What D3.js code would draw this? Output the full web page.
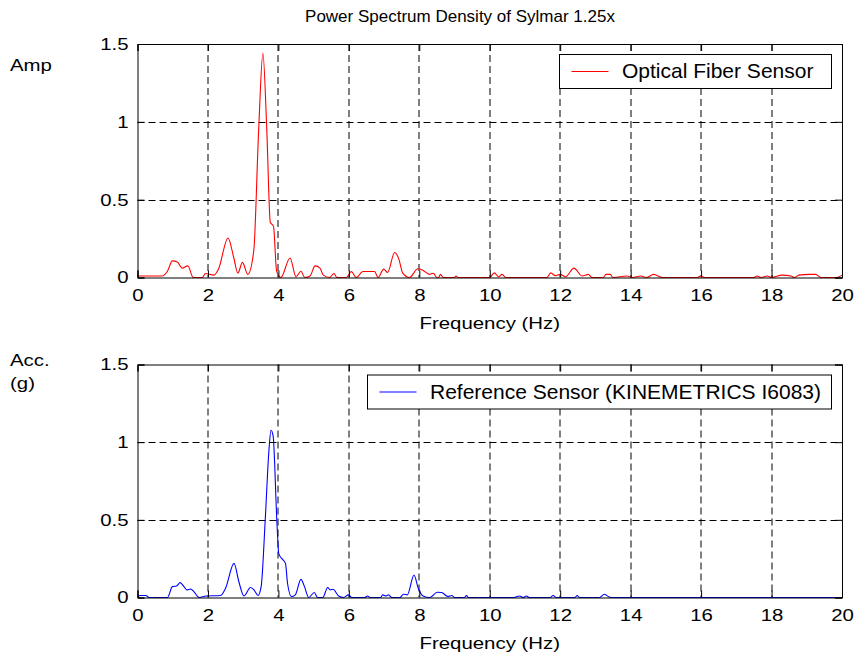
<!DOCTYPE html>
<html>
<head>
<meta charset="utf-8">
<script src="https://cdn.jsdelivr.net/npm/d3@7"></script>
<style>
  body { margin: 0; background: #fff; }
  svg text { font-family: "Liberation Sans", Arial, sans-serif; fill: #000; }
</style>
</head>
<body>
<div id="chart"></div>
<script>
// frequency (Hz) / amplitude pairs
const optFreq = [0, 0.7, 0.85, 0.99, 1.13, 1.27, 1.43, 1.58, 1.84, 1.93, 2.17, 2.3, 2.57, 2.73, 2.85, 2.98, 3.13, 3.3, 3.44, 3.56, 3.67, 3.77, 3.86, 3.95, 4.07, 4.33, 4.5, 4.64, 4.75, 4.9, 5.04, 5.18, 5.27, 5.45, 5.58, 5.66, 5.93, 6.07, 6.21, 6.4, 6.73, 6.83, 6.99, 7.1, 7.3, 7.42, 7.53, 7.72, 7.96, 8.1, 8.29, 8.4, 8.5, 8.55, 8.6, 8.68, 9.0, 9.04, 9.1, 10.0, 10.13, 10.25, 10.35, 10.45, 11.62, 11.73, 11.86, 12.0, 12.15, 12.39, 12.62, 12.8, 12.9, 13.22, 13.3, 13.42, 13.5, 13.9, 14.05, 14.29, 14.45, 14.65, 14.9, 15.9, 15.98, 16.1, 17.5, 17.59, 17.7, 17.88, 18.0, 18.3, 18.55, 18.65, 18.77, 19.06, 19.25, 19.4, 19.85, 20];
const optAmp  = [0.01, 0.01, 0.04, 0.107, 0.1, 0.06, 0.075, 0.0, 0.0, 0.026, 0.015, 0.054, 0.254, 0.13, 0.028, 0.097, 0.02, 0.17, 0.95, 1.44, 0.95, 0.355, 0.33, 0.04, 0.0, 0.125, 0.005, 0.04, 0.0, 0.01, 0.075, 0.06, 0.017, 0.0, 0.026, 0.0, 0.0, 0.039, 0.0, 0.039, 0.039, 0.0, 0.054, 0.032, 0.161, 0.118, 0.028, 0.0, 0.056, 0.047, 0.02, 0.027, 0.0, 0.0, 0.02, 0.0, 0.0, 0.01, 0.0, 0.0, 0.03, 0.005, 0.02, 0.0, 0.0, 0.03, 0.012, 0.02, 0.005, 0.06, 0.01, 0.02, 0.0, 0.0, 0.02, 0.02, 0.0, 0.01, 0.0, 0.01, 0.0, 0.02, 0.0, 0.0, 0.01, 0.0, 0.0, 0.01, 0.0, 0.01, 0.0, 0.015, 0.01, 0.0, 0.015, 0.02, 0.02, 0.0, 0.0, 0.015];

const refFreq = [0, 0.09, 0.24, 0.33, 0.85, 0.99, 1.11, 1.21, 1.32, 1.4, 1.51, 1.6, 1.75, 1.95, 2.36, 2.5, 2.74, 2.88, 3.02, 3.21, 3.32, 3.42, 3.51, 3.63, 3.73, 3.79, 3.85, 3.96, 4.01, 4.1, 4.2, 4.26, 4.37, 4.48, 4.64, 4.74, 4.86, 5.02, 5.11, 5.26, 5.4, 5.47, 5.55, 5.71, 5.85, 5.99, 6.08, 6.45, 6.53, 6.6, 6.9, 6.96, 7.06, 7.12, 7.22, 7.45, 7.55, 7.66, 7.85, 7.97, 8.11, 8.3, 8.51, 8.63, 8.82, 8.92, 9.0, 9.28, 9.34, 9.39, 10.7, 10.77, 10.85, 10.95, 11.04, 11.12, 11.72, 11.8, 11.88, 12.42, 12.48, 12.55, 13.12, 13.25, 13.38, 13.45, 20];
const refAcc  = [0.006, 0.013, 0.013, 0.0, 0.0, 0.07, 0.074, 0.096, 0.07, 0.049, 0.055, 0.038, 0.0, 0.01, 0.013, 0.06, 0.22, 0.1, 0.01, 0.064, 0.045, 0.013, 0.07, 0.517, 0.943, 1.077, 1.04, 0.474, 0.283, 0.25, 0.22, 0.09, 0.006, 0.017, 0.117, 0.07, 0.0, 0.032, 0.0, 0.0, 0.064, 0.049, 0.053, 0.01, 0.0, 0.017, 0.0, 0.0, 0.01, 0.0, 0.0, 0.017, 0.01, 0.017, 0.0, 0.0, 0.021, 0.017, 0.145, 0.06, 0.01, 0.0, 0.034, 0.032, 0.006, 0.013, 0.0, 0.0, 0.013, 0.0, 0.0, 0.006, 0.01, 0.0, 0.01, 0.0, 0.0, 0.013, 0.0, 0.0, 0.013, 0.0, 0.0, 0.021, 0.005, 0.0, 0.0];

const xTicks = [0, 2, 4, 6, 8, 10, 12, 14, 16, 18, 20];
const yTicks = [0, 0.5, 1, 1.5];
const yTickLabels = ["0", "0.5", "1", "1.5"];

const W = 859, H = 658;
const plotLeft = 137.5, plotRight = 842;
const stretch = 1.2;   // the axis texts of the figure are wider than normal Arial

const svg = d3.select("#chart")
    .append("svg")
    .attr("width", W)
    .attr("height", H);

// text drawn at (x, y) and widened horizontally
function wideText(x, y, str, anchor) {
    return svg.append("text")
        .attr("transform", `translate(${x},${y}) scale(${stretch},1)`)
        .attr("text-anchor", anchor || "start")
        .style("font-size", "17px")
        .text(str);
}

svg.append("text")
    .attr("x", 460)
    .attr("y", 22)
    .attr("text-anchor", "middle")
    .style("font-size", "17px")
    .text("Power Spectrum Density of Sylmar 1.25x");

function drawPanel(top, bottom, freq, vals, color, legend) {
    const x = d3.scaleLinear().domain([0, 20]).range([plotLeft, plotRight]);
    const y = d3.scaleLinear().domain([0, 1.5]).range([bottom, top]);
    const g = svg.append("g");

    // dashed grid
    g.selectAll(".vgrid")
        .data(xTicks.slice(1, -1))
        .enter().append("line")
        .attr("x1", d => Math.round(x(d))).attr("x2", d => Math.round(x(d)))
        .attr("y1", top).attr("y2", bottom)
        .attr("stroke", "#000")
        .attr("stroke-dasharray", "7,4");

    g.selectAll(".hgrid")
        .data(yTicks.slice(1, -1))
        .enter().append("line")
        .attr("x1", plotLeft).attr("x2", plotRight)
        .attr("y1", d => Math.round(y(d)) + 0.5).attr("y2", d => Math.round(y(d)) + 0.5)
        .attr("stroke", "#000")
        .attr("stroke-dasharray", "7,4");

    const line = d3.line()
        .x((d, i) => x(freq[i]))
        .y(d => y(d))
        .curve(d3.curveMonotoneX);

    g.append("path")
        .datum(vals)
        .attr("d", line)
        .attr("fill", "none")
        .attr("stroke", color)
        .attr("stroke-width", 1.1);

    // axes with inward ticks on every side
    const tk = 7;
    g.append("g")
        .attr("transform", `translate(0,${bottom})`)
        .call(d3.axisBottom(x).tickValues(xTicks).tickSize(-tk).tickPadding(tk + 4))
        .call(a => a.selectAll("text")
            .style("font-size", "17px")
            .attr("transform", `scale(${stretch},1)`));
    g.append("g")
        .attr("transform", `translate(0,${top})`)
        .call(d3.axisTop(x).tickValues(xTicks).tickSize(-tk).tickFormat(""));
    g.append("g")
        .attr("transform", `translate(${plotLeft},0)`)
        .call(d3.axisLeft(y).tickValues(yTicks).tickSize(-tk)
            .tickFormat((d, i) => yTickLabels[i]))
        .call(a => a.selectAll("text")
            .style("font-size", "17px")
            .attr("x", -9 / stretch)
            .attr("transform", `scale(${stretch},1)`));
    g.append("g")
        .attr("transform", `translate(${plotRight},0)`)
        .call(d3.axisRight(y).tickValues(yTicks).tickSize(-tk).tickFormat(""));

    g.selectAll(".domain").attr("stroke", "#000");
    g.selectAll(".tick line").attr("stroke", "#000");
    g.selectAll(".tick text").attr("fill", "#000").style("font-family", "Liberation Sans, Arial, sans-serif");

    wideText((plotLeft + plotRight) / 2, bottom + 51, "Frequency (Hz)", "middle");

    // legend
    const lg = g.append("g");
    lg.append("rect")
        .attr("x", legend.x).attr("y", top + 10.5)
        .attr("width", 831.5 - legend.x).attr("height", 34)
        .attr("fill", "#fff").attr("stroke", "#000");
    lg.append("line")
        .attr("x1", legend.x + 12).attr("x2", legend.x + 49)
        .attr("y1", top + 27.5).attr("y2", top + 27.5)
        .attr("stroke", color);
    lg.append("text")
        .attr("x", legend.x + 62.5)
        .attr("y", top + 34)
        .style("font-size", "21px")
        .text(legend.text);
}

drawPanel(44, 277.5, optFreq, optAmp, "#ff0000", { x: 559.5, text: "Optical Fiber Sensor" });
drawPanel(364.5, 597.5, refFreq, refAcc, "#0000ff", { x: 367.5, text: "Reference Sensor (KINEMETRICS I6083)" });

wideText(10, 71, "Amp");
wideText(10, 366, "Acc.");
wideText(10, 389, "(g)");
</script>
</body>
</html>
